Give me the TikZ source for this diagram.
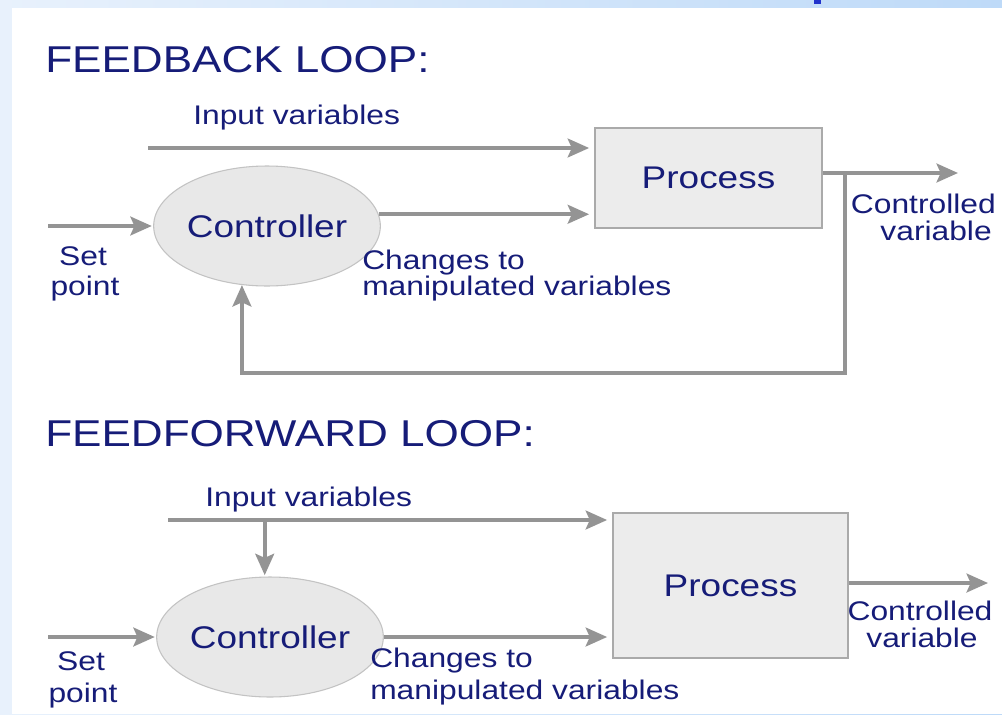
\documentclass[tikz,border=0pt]{standalone}
\usepackage{fontspec}
\setmainfont{Liberation Sans}[FakeStretch=1.18]
\usetikzlibrary{arrows.meta,shapes.geometric,calc}
\definecolor{ink}{RGB}{22,28,120}
\definecolor{wire}{RGB}{148,148,148}
\definecolor{bgleft}{RGB}{232,241,252}
\definecolor{bgright}{RGB}{190,218,248}
\definecolor{boxfill}{RGB}{236,236,236}
\definecolor{boxline}{RGB}{170,170,170}
\definecolor{ellfill}{RGB}{232,232,232}
\definecolor{ellline}{RGB}{195,195,195}
\definecolor{tabblue}{RGB}{34,51,204}
\tikzset{
  heading/.style={anchor=base west,inner sep=0,text=ink,font=\fontsize{28}{34}\selectfont},
  label/.style={anchor=base,inner sep=0,text=ink,font=\fontsize{20.2}{24}\selectfont},
  labelw/.style={label,anchor=base west},
  labele/.style={label,anchor=base east},
  procbox/.style={draw=boxline,line width=0.8pt,fill=boxfill,text=ink,
    font=\fontsize{23.5}{28}\selectfont,inner sep=0},
  ctlr/.style={ellipse,draw=ellline,line width=0.8pt,fill=ellfill,text=ink,
    font=\fontsize{23.5}{28}\selectfont,inner sep=0,
    minimum width=156pt,minimum height=90pt},
  wireline/.style={draw=wire,line width=3pt},
  flow/.style={wireline,-{Stealth[length=16pt,width=14pt,inset=3pt]}},
}
\begin{document}
\begin{tikzpicture}[x=0.75pt,y=-0.75pt]
\useasboundingbox (0,0) rectangle (1002,714);
% slide background and white panel
\shade[left color=bgleft,right color=bgright] (0,0) rectangle (1002,714);
\fill[white] (12,8) rectangle (1002,714);
\fill[tabblue] (814,0) rectangle (821,4);

% ---------------- feedback loop ----------------
\node[heading] (t1) at (45,72) {FEEDBACK LOOP:};
\node[procbox,minimum width=170.25pt,minimum height=75pt] (proc1) at (708.5,178) {Process};
\node[ctlr] (ctl1) at (267,226) {Controller};

\coordinate (in1) at (148,148);
\coordinate (sp1) at (48,226);
\coordinate (o1) at (958,173);
\coordinate (fb1) at (845,173);
\coordinate (fbc) at (845,373);

\draw[flow,shorten >=4pt] (in1) -- (in1 -| proc1.west);
\draw[flow,shorten >=1pt] (sp1) -- (ctl1.west);
\draw[flow,shorten >=4pt] (ctl1.6) -- (ctl1.6 -| proc1.west);
\draw[flow] (proc1.east |- o1) -- (o1);
\draw[flow] (fb1) -- (fbc) -| (ctl1.247);

\node[labelw] (iv1) at (193,124) {Input variables};
\node[label] (set1) at (83,265) {Set};
\node[label] (pt1) at (85,295) {point};
\node[labelw] (ch1) at (362,269) {Changes to};
\node[labelw] (mv1) at (362,295) {manipulated variables};
\node[labele] (cv1) at (996,213) {Controlled};
\node[labele] (va1) at (992,240) {variable};

% ---------------- feedforward loop ----------------
\node[heading] (t2) at (45,446) {FEEDFORWARD LOOP:};
\node[procbox,minimum width=176.25pt,minimum height=108.75pt] (proc2) at (730.5,585.5) {Process};
\node[ctlr,minimum width=153pt] (ctl2) at (270,637) {Controller};

\coordinate (in2) at (168,520);
\coordinate (sp2) at (48,637);
\coordinate (o2) at (988,583);

\draw[flow,shorten >=4pt] (in2) -- (in2 -| proc2.west);
\draw[flow,shorten >=1pt] (ctl2.95 |- in2) -- (ctl2.95);
\draw[flow,shorten >=1pt] (sp2) -- (ctl2.west);
\draw[flow,shorten >=4pt] (ctl2.east) -- (ctl2.east -| proc2.west);
\draw[flow] (proc2.east |- o2) -- (o2);

\node[labelw] (iv2) at (205,506) {Input variables};
\node[label] (set2) at (81,670) {Set};
\node[label] (pt2) at (83,702) {point};
\node[labelw] (ch2) at (370,667) {Changes to};
\node[labelw] (mv2) at (370,699) {manipulated variables};
\node[label] (cv2) at (920,620) {Controlled};
\node[label] (va2) at (922,647) {variable};
\end{tikzpicture}
\end{document}
